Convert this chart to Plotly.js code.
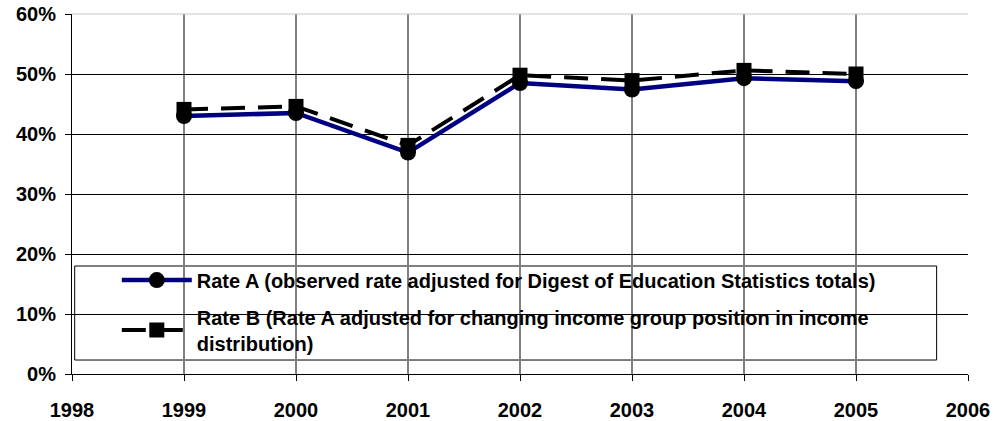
<!DOCTYPE html>
<html>
<head>
<meta charset="utf-8">
<script src="https://cdn.plot.ly/plotly-3.0.1.min.js"></script>
<style>html,body{margin:0;padding:0;background:#fff}#chart{width:998px;height:421px}</style>
</head>
<body>
<div id="chart"></div>
<script>
const years = [1999, 2000, 2001, 2002, 2003, 2004, 2005];
const rateA = [43.0, 43.5, 36.9, 48.5, 47.4, 49.3, 48.8];
const rateB = [44.1, 44.6, 38.1, 49.8, 48.9, 50.6, 50.0];
const nameA = "Rate A (observed rate adjusted for Digest of Education Statistics totals)";
const nameB = "Rate B (Rate A adjusted for changing income group position in income<br>distribution)";
const yTickVals = [0, 10, 20, 30, 40, 50, 60];
const yTickText = ["0%", "10%", "20%", "30%", "40%", "50%", "60%"];
const xTickVals = [1998, 1999, 2000, 2001, 2002, 2003, 2004, 2005, 2006];

const fam = "Liberation Sans, Arial, sans-serif";
const tickFont = {family: fam, size: 20, color: "#000", weight: "bold"};
const legFont = {family: fam, size: 20, color: "#000", weight: "bold"};

const traces = [
  {x: years, y: rateA, name: nameA, type: "scatter", mode: "lines+markers",
   legendgroup: "a",
   line: {color: "#000080", width: 4.5},
   marker: {symbol: "circle", size: 16, color: "#000"}},
  {x: years, y: rateB, name: nameB, type: "scatter", mode: "lines+markers",
   legendgroup: "b",
   line: {color: "#000", width: 4, dash: "24px,13px"},
   marker: {symbol: "square", size: 15, color: "#000"}}
];

const layout = {
  width: 998, height: 421,
  margin: {l: 72, r: 30, t: 14, b: 47},
  paper_bgcolor: "#fff", plot_bgcolor: "#fff",
  font: tickFont,
  showlegend: true,
  legend: {
    x: 0.05, y: 0.315, xanchor: "left", yanchor: "top",
    bgcolor: "rgba(0,0,0,0)", borderwidth: 0,
    font: legFont, tracegroupgap: 8, itemwidth: 70
  },
  xaxis: {
    range: [1998, 2006], tickvals: xTickVals, ticktext: xTickVals.map(String),
    showgrid: true, gridcolor: "#808080", gridwidth: 1.5,
    showline: true, linecolor: "#000", linewidth: 1,
    ticks: "outside", ticklen: 6, tickcolor: "#000",
    ticklabelstandoff: 12, zeroline: false,
    tickfont: tickFont
  },
  yaxis: {
    range: [0, 60], tickvals: yTickVals, ticktext: yTickText,
    showgrid: true, gridcolor: "#000", gridwidth: 1,
    showline: true, linecolor: "#000", linewidth: 1,
    ticks: "outside", ticklen: 6, tickcolor: "#000",
    ticklabelstandoff: 5,
    zeroline: false, tickfont: tickFont
  },
  shapes: [
    {type: "rect", xref: "paper", yref: "y", x0: 0.003, x1: 0.965, y0: 2.33, y1: 18.0,
     line: {color: "#000", width: 1}, fillcolor: "#fff", layer: "below"},
    {type: "line", xref: "paper", yref: "paper", x0: 0, x1: 1, y0: 1, y1: 1,
     line: {color: "#c8c8c8", width: 1}}
  ]
};

Plotly.newPlot("chart", traces, layout, {displayModeBar: false, staticPlot: true});
</script>
</body>
</html>
